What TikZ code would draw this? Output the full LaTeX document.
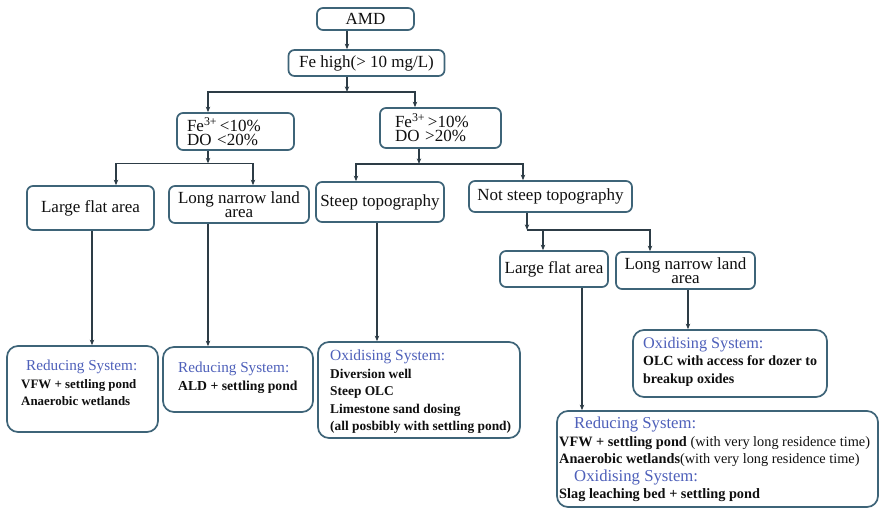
\documentclass[tikz,border=0pt]{standalone}
\usepackage{fontspec}
\setmainfont{Liberation Serif}
\usetikzlibrary{arrows.meta}

\definecolor{boxc}{RGB}{62,100,120}
\definecolor{linec}{RGB}{45,60,70}
\definecolor{titc}{RGB}{78,96,186}
\definecolor{textc}{RGB}{15,15,15}

\tikzset{
  flowbox/.style={draw=boxc, line width=1.7pt, rounded corners=6pt, fill=white,
    text=textc, inner sep=0pt, align=center, font=\fontsize{17}{14}\selectfont},
  sysbox/.style={draw=boxc, line width=1.7pt, rounded corners=11pt, fill=white},
  systext/.style={anchor=north west, inner sep=0pt, align=left, text=textc,
    font=\fontsize{#1}{17.5}\selectfont\bfseries},
  link/.style={draw=linec, line width=1.3pt, -{Stealth[length=5.5pt,width=4.5pt]}},
}
\newcommand\systitle[2][15.5]{{\color{titc}\mdseries\fontsize{#1}{17}\selectfont #2}}

\begin{document}
\begin{tikzpicture}[x=1pt,y=-1pt]
\useasboundingbox (0,0) rectangle (879,512);

% decision boxes
\node[flowbox, minimum width=97pt,  minimum height=22pt] (amd) at (365.5,19)  {AMD};
\node[flowbox, minimum width=156pt, minimum height=26pt] (fe)  at (366.5,63)  {Fe high(> 10 mg/L)};
\node[flowbox, minimum height=37pt, align=left, text width=97pt, inner xsep=10pt] (c1) at (235.5,131.5)
  {Fe\textsuperscript{3+}\,<10\%\\DO <20\%};
\node[flowbox, minimum height=40pt, align=left, text width=91pt, inner xsep=15pt] (c2) at (440.5,128)
  {Fe\textsuperscript{3+}\,>10\%\\DO >20\%};
\node[flowbox, minimum width=127pt, minimum height=44pt] (lf1) at (90.5,208)  {Large flat area};
\node[flowbox, minimum width=140pt, minimum height=37pt] (ln1) at (239,204.5) {Long narrow land\\area};
\node[flowbox, minimum width=128pt, minimum height=40pt] (st)  at (380,202)   {Steep topography};
\node[flowbox, minimum width=163pt, minimum height=31pt] (ns)  at (550.5,196.5) {Not steep topography};
\node[flowbox, minimum width=108pt, minimum height=36pt] (lf2) at (554,269)   {Large flat area};
\node[flowbox, minimum width=139pt, minimum height=37pt] (ln2) at (685.5,270.5) {Long narrow land\\area};

% treatment system boxes
\node[sysbox, minimum width=151pt, minimum height=86pt] (r1)  at (82.5,389)  {};
\node[sysbox, minimum width=150pt, minimum height=65pt] (r2)  at (238,379.5) {};
\node[sysbox, minimum width=202pt, minimum height=96pt] (o1)  at (419,390)   {};
\node[sysbox, minimum width=194pt, minimum height=67pt] (o2)  at (730,363.5) {};
\node[sysbox, minimum width=321pt, minimum height=96pt] (bot) at (717.5,459) {};

\node[systext=12.9] (r1t) at (21,360)
  {\hspace{5pt}\systitle[15.2]{Reducing System:}\\VFW + settling pond\\Anaerobic wetlands};
\node[systext=13.7] (r2t) at (178,362)
  {\systitle[15.2]{Reducing System:}\\ALD + settling pond};
\node[systext=13.4] (o1t) at (330,350)
  {\systitle[15.5]{Oxidising System:}\\Diversion well\\Steep OLC\\Limestone sand dosing\\(all posbibly with settling pond)};
\node[systext=14] (o2t) at (643,337)
  {\systitle[16.2]{Oxidising System:}\\OLC with access for dozer to\\breakup oxides};
\node[systext=14.3] (bott) at (559,417)
  {\hspace{15pt}\systitle[16.7]{Reducing System:}\\
   VFW + settling pond {\mdseries(with very long residence time)}\\
   Anaerobic wetlands{\mdseries(with very long residence time)}\\
   \hspace{15pt}\systitle[16.7]{Oxidising System:}\\
   Slag leaching bed + settling pond};

% connectors
\coordinate (a0) at ([xshift=-18.5pt]amd.south);
\draw[link] (a0) -- (a0 |- fe.north);

\draw[link] ([xshift=-19.5pt]fe.south) -- ++(0,15) coordinate (j1);
\draw[link] (j1) -| ([xshift=-27.5pt]c1.north);
\draw[link] (j1) -| ([xshift=-25.5pt]c2.north);

\draw[link] ([xshift=-27.5pt]c1.south) -- ++(0,12.5) coordinate (j2);
\draw[link] (j2) -| ([xshift=25.5pt]lf1.north);
\draw[link] (j2) -| ([xshift=14pt]ln1.north);

\draw[link] ([xshift=-21.5pt]c2.south) -- ++(0,15) coordinate (j3);
\draw[link] (j3) -| ([xshift=-24pt]st.north);
\draw[link] (j3) -| ([xshift=-27.5pt]ns.north);

\draw[link] ([xshift=-23.5pt]ns.south) -- ++(0,17) coordinate (j4);
\draw[link] (j4) -| ([xshift=-11pt]lf2.north);
\draw[link] (j4) -| ([xshift=-35.5pt]ln2.north);

\coordinate (d1) at ([xshift=1.5pt]lf1.south);
\draw[link] (d1) -- (d1 |- r1.north);
\coordinate (d2) at ([xshift=-31pt]ln1.south);
\draw[link] (d2) -- (d2 |- r2.north);
\coordinate (d3) at ([xshift=-3pt]st.south);
\draw[link] (d3) -- (d3 |- o1.north);
\coordinate (d4) at ([xshift=28pt]lf2.south);
\draw[link] (d4) -- (d4 |- bot.north);
\coordinate (d5) at ([xshift=2.5pt]ln2.south);
\draw[link] (d5) -- (d5 |- o2.north);
\end{tikzpicture}
\end{document}
